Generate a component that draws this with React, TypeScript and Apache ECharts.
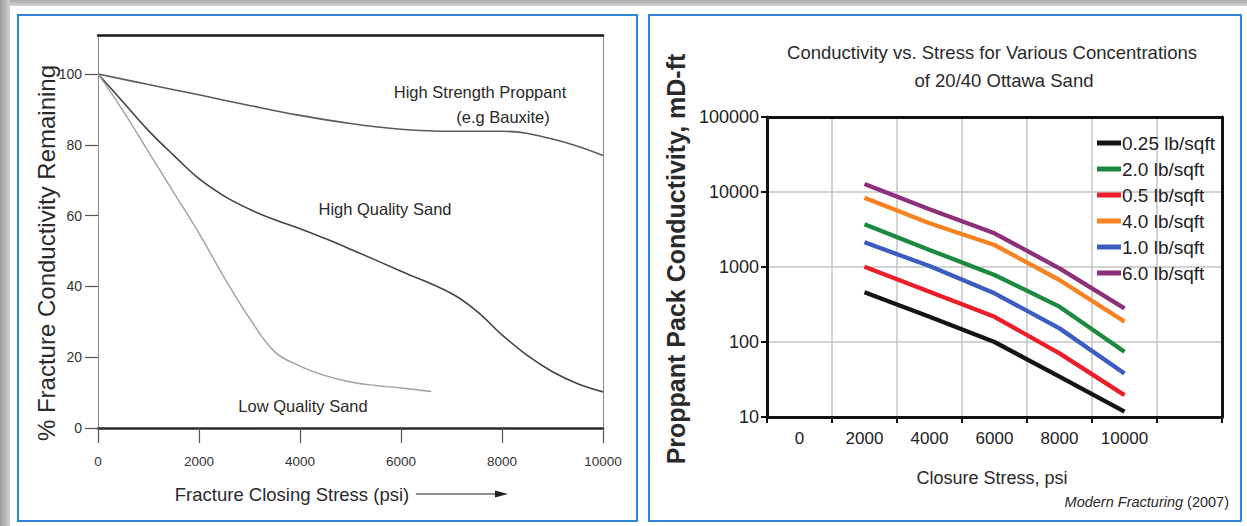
import React, { useEffect, useRef } from "react";
import * as echarts from "echarts";

const SANS = "'Liberation Sans', Arial, sans-serif";

// ---- Left chart data: % fracture conductivity remaining vs closing stress ----
const leftYTicks = [0, 20, 40, 60, 80, 100];
const hsName = "High Strength Proppant";
const hsStress = [0, 1000, 2000, 3000, 4000, 5000, 6000, 7000, 8000, 9000, 10000];
const hsPct = [100, 97, 94.1, 91.1, 88.3, 86, 84.4, 83.8, 83.8, 81.6, 77];
const hqName = "High Quality Sand";
const hqStress = [0, 500, 1000, 1500, 2000, 2500, 3000, 3500, 4000, 4500, 5000, 6000, 7000, 7500, 8000, 8500, 9000, 9500, 10000];
const hqPct = [100, 92, 84, 77, 70.4, 65.5, 61.8, 58.8, 56.3, 53.5, 50.5, 44.3, 38, 33, 26.3, 20.5, 15.9, 12.5, 10.2];
const lqName = "Low Quality Sand";
const lqStress = [0, 500, 1000, 1500, 2000, 2500, 3000, 3500, 4000, 4500, 5000, 5500, 6000, 6600];
const lqPct = [100, 89.5, 78, 66.5, 55, 42.5, 31, 21.5, 17.5, 14.8, 13, 12, 11.3, 10.3];

// ---- Right chart data: conductivity (mD-ft) vs closure stress ----
const stressCats = ["0", "2000", "4000", "6000", "8000", "10000", ""];
const stressPts = ["2000", "4000", "6000", "8000", "10000"];
const concNames = ["0.25 lb/sqft", "2.0 lb/sqft", "0.5 lb/sqft", "4.0 lb/sqft", "1.0 lb/sqft", "6.0 lb/sqft"];
const conc025 = [460, 217, 100, 34.5, 11.8];
const conc20 = [3710, 1690, 782, 296, 74];
const conc05 = [1010, 469, 217, 70.6, 19.6];
const conc40 = [8400, 3830, 1965, 671, 187];
const conc10 = [2135, 1030, 446, 152, 38];
const conc60 = [12800, 5880, 2810, 960, 281];
const concValues = [conc025, conc20, conc05, conc40, conc10, conc60];
const concColors = ["#141414", "#1b8a3e", "#ee1d2a", "#f7821f", "#3b5cc0", "#8d2f7b"];

const zip = (xs: any[], ys: number[]) => xs.map((x, i) => [x, ys[i]]);
const plain = (v: number) => String(v);

export default function App() {
  const ref = useRef<HTMLDivElement>(null);
  useEffect(() => {
    if (!ref.current) return;
    const chart = echarts.init(ref.current, undefined, { renderer: "svg" });
    const leftLine = (name: string, xs: number[], ys: number[], color: string, width: number) => ({
      name,
      type: "line",
      xAxisIndex: 0,
      yAxisIndex: 0,
      data: zip(xs, ys),
      smooth: 0.4,
      showSymbol: false,
      symbol: "none",
      lineStyle: { color, width },
      itemStyle: { color },
      z: 3,
    });
    const rightLines = concNames.map((name, i) => ({
      name,
      type: "line",
      xAxisIndex: 2,
      yAxisIndex: 2,
      data: zip(stressPts, concValues[i]),
      showSymbol: false,
      symbol: "none",
      lineStyle: { color: concColors[i], width: 4.3 },
      itemStyle: { color: concColors[i] },
      z: 3,
    }));
    const txt = (text: string, x: number, y: number, size: number, extra: any = {}) => ({
      type: "text",
      x,
      y,
      z: 50,
      style: {
        text,
        fontSize: size,
        fontFamily: SANS,
        fill: "#2a2a2a",
        align: "center",
        verticalAlign: "middle",
        ...extra,
      },
    });
    chart.setOption({
      animation: false,
      backgroundColor: "#ffffff",
      grid: [
        { left: 98, top: 35, width: 505, height: 393 },
        { left: 767, top: 117, width: 455, height: 300 },
      ],
      legend: {
        data: concNames,
        orient: "vertical",
        left: 1097,
        top: 132,
        icon: "rect",
        itemWidth: 24,
        itemHeight: 5,
        itemGap: 4,
        padding: 0,
        textStyle: { fontSize: 19, fontFamily: SANS, color: "#222", lineHeight: 22, padding: [0, 0, 0, -4] },
      },
      xAxis: [
        {
          type: "value",
          gridIndex: 0,
          min: 0,
          max: 10000,
          interval: 2000,
          axisLine: { onZero: false, lineStyle: { color: "#2a2a2a", width: 2.5 } },
          axisTick: { length: 15, lineStyle: { color: "#555", width: 1.2 } },
          axisLabel: { margin: 26, fontSize: 13.5, fontFamily: SANS, color: "#333", formatter: plain },
          splitLine: { show: false },
        },
        {
          type: "value",
          gridIndex: 0,
          position: "top",
          min: 0,
          max: 1,
          axisLine: { onZero: false, lineStyle: { color: "#1a1a1a", width: 2.5 } },
          axisTick: { show: false },
          axisLabel: { show: false },
          splitLine: { show: false },
        },
        {
          type: "category",
          gridIndex: 1,
          data: stressCats,
          boundaryGap: true,
          axisLine: { onZero: false, lineStyle: { color: "#111", width: 3 } },
          axisTick: { show: true, length: 6, lineStyle: { color: "#111", width: 2 } },
          axisLabel: { margin: 13, fontSize: 17, fontFamily: SANS, color: "#222", interval: 0 },
          splitLine: { show: true, interval: 0, lineStyle: { color: "#c4c4c4", width: 1.5 } },
        },
        {
          type: "value",
          gridIndex: 1,
          position: "top",
          min: 0,
          max: 1,
          axisLine: { onZero: false, lineStyle: { color: "#111", width: 3 } },
          axisTick: { show: false },
          axisLabel: { show: false },
          splitLine: { show: false },
        },
      ],
      yAxis: [
        {
          type: "value",
          gridIndex: 0,
          min: 0,
          max: 111,
          interval: 20,
          axisLine: { show: true, onZero: false, lineStyle: { color: "#888", width: 1 } },
          axisTick: { show: true, length: 13, customValues: leftYTicks, lineStyle: { color: "#555", width: 1.2 } },
          axisLabel: { margin: 16, fontSize: 14, fontFamily: SANS, color: "#333", showMaxLabel: false, formatter: plain },
          splitLine: { show: false },
        },
        {
          type: "value",
          gridIndex: 0,
          position: "right",
          min: 0,
          max: 1,
          axisLine: { show: true, onZero: false, lineStyle: { color: "#888", width: 1 } },
          axisTick: { show: false },
          axisLabel: { show: false },
          splitLine: { show: false },
        },
        {
          type: "log",
          gridIndex: 1,
          logBase: 10,
          min: 10,
          max: 100000,
          axisLine: { show: true, onZero: false, lineStyle: { color: "#111", width: 3 } },
          axisTick: { show: true, length: 6, lineStyle: { color: "#111", width: 2 } },
          axisLabel: { margin: 8, fontSize: 18, fontFamily: SANS, color: "#222", formatter: plain },
          splitLine: { show: true, lineStyle: { color: "#c4c4c4", width: 1.5 } },
        },
        {
          type: "value",
          gridIndex: 1,
          position: "right",
          min: 0,
          max: 1,
          axisLine: { show: true, onZero: false, lineStyle: { color: "#111", width: 3 } },
          axisTick: { show: false },
          axisLabel: { show: false },
          splitLine: { show: false },
        },
      ],
      series: [
        leftLine(hsName, hsStress, hsPct, "#5a5a5a", 1.6),
        leftLine(hqName, hqStress, hqPct, "#444", 1.6),
        leftLine(lqName, lqStress, lqPct, "#a0a0a0", 1.4),
        ...rightLines,
      ],
      graphic: [
        {
          type: "rect",
          z: -10,
          shape: { x: 0, y: 0, width: 1247, height: 6 },
          style: {
            fill: new echarts.graphic.LinearGradient(0, 0, 0, 1, [
              { offset: 0, color: "#a9a9a9" },
              { offset: 1, color: "#d6d6d6" },
            ]),
          },
        },
        {
          type: "rect",
          z: -10,
          shape: { x: 0, y: 0, width: 10, height: 526 },
          style: {
            fill: new echarts.graphic.LinearGradient(0, 0, 1, 0, [
              { offset: 0, color: "#9c9c9c" },
              { offset: 1, color: "#cfcfcf" },
            ]),
          },
        },
        {
          type: "rect",
          z: 60,
          shape: { x: 18, y: 15, width: 619, height: 506 },
          style: { fill: "none", stroke: "#2e84d6", lineWidth: 2 },
        },
        {
          type: "rect",
          z: 60,
          shape: { x: 649, y: 15, width: 592, height: 506 },
          style: { fill: "none", stroke: "#2e84d6", lineWidth: 2 },
        },
        // left chart texts
        txt("High Strength Proppant", 480, 92, 16.5),
        txt("(e.g Bauxite)", 503, 117, 16.5),
        txt(hqName, 385, 209, 16.5),
        txt(lqName, 303, 406, 16.5),
        txt("Fracture Closing Stress (psi)", 292, 494, 18.5),
        {
          type: "line",
          z: 50,
          shape: { x1: 416, y1: 494, x2: 500, y2: 494 },
          style: { stroke: "#222", lineWidth: 1.2 },
        },
        {
          type: "polygon",
          z: 50,
          shape: { points: [[495, 490.5], [508, 494], [495, 497.5]] },
          style: { fill: "#222" },
        },
        {
          type: "text",
          x: 46,
          y: 253,
          rotation: Math.PI / 2,
          z: 50,
          style: {
            text: "% Fracture Conductivity Remaining",
            fontSize: 24,
            fontFamily: SANS,
            fill: "#2a2a2a",
            align: "center",
            verticalAlign: "middle",
          },
        },
        // right chart texts
        txt("Conductivity vs. Stress for Various Concentrations", 992, 52, 18.5),
        txt("of 20/40 Ottawa Sand", 1004, 80, 18.5),
        txt("Closure Stress, psi", 992, 478, 18),
        {
          type: "text",
          x: 676,
          y: 259,
          rotation: Math.PI / 2,
          z: 50,
          style: {
            text: "Proppant Pack Conductivity, mD-ft",
            fontSize: 25,
            fontWeight: "bold",
            fontFamily: SANS,
            fill: "#2a2a2a",
            align: "center",
            verticalAlign: "middle",
          },
        },
        {
          type: "text",
          x: 1229,
          y: 502,
          z: 50,
          style: {
            text: "{i|Modern Fracturing} (2007)",
            fontSize: 14.5,
            fontFamily: SANS,
            fill: "#2a2a2a",
            align: "right",
            verticalAlign: "middle",
            rich: { i: { fontStyle: "italic", fontSize: 14.5, fontFamily: SANS, fill: "#2a2a2a" } },
          },
        },
      ],
    });
    return () => chart.dispose();
  }, []);
  return <div ref={ref} style={{ position: "fixed", left: 0, top: 0, width: 1247, height: 526 }} />;
}
